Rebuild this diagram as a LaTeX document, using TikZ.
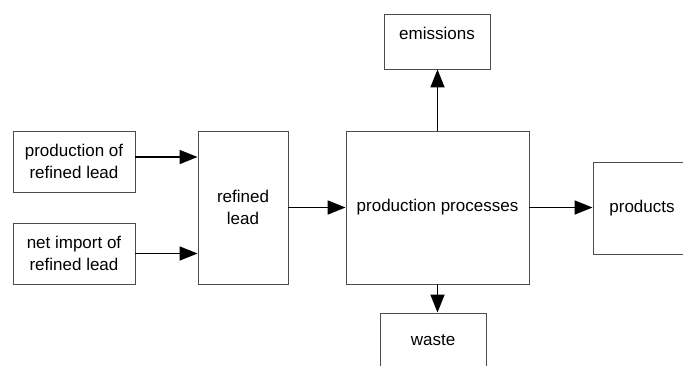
\documentclass[tikz,border=0pt]{standalone}
\usepackage{fontspec}
\setmainfont{Liberation Sans}
\usetikzlibrary{positioning, calc, arrows.meta}

\begin{document}
\begin{tikzpicture}[x=1pt, y=-1pt,
	box/.style={draw=black!70, line width=0.9pt, align=center, inner sep=0pt, font=\fontsize{17}{21.5}\selectfont},
	flow/.style={line width=1.7pt, -{Triangle[length=18pt, width=14pt]}}]
\useasboundingbox (0, 0) rectangle (683, 365);
\clip (0, 0) rectangle (683, 365);
\node[box, minimum width=122, minimum height=61] (prod) at (74, 161.5) {production of\\refined lead};
\node[box, minimum width=122, minimum height=61] (imp) at (74, 253.5) {net import of\\refined lead};
\node[box, minimum width=90, minimum height=153] (ref) at (243, 207.5) {refined\\lead};
\node[box, minimum width=183, minimum height=153] (proc) at (437.5, 207.5) {production processes};
\node[box, minimum width=106, minimum height=55, text depth=17pt] (emis) at (437, 41.5) {emissions};
\node[box, minimum width=106, minimum height=55] (waste) at (433, 340.5) {waste};
\node[box, minimum width=98, minimum height=92] (prods) at (642, 208) {products};
% connectors
\coordinate (p1) at ([yshift=4.5pt]prod.east);
\draw[flow] (p1) -- (p1 -| ref.west);
\draw[flow] (imp.east) -- (imp.east -| ref.west);
\draw[flow] (ref.east) -- (ref.east -| proc.west);
\draw[flow] (proc.east) -- (proc.east -| prods.west);
\draw[flow] (proc.north) -- (proc.north |- emis.south);
\draw[flow] (proc.south) -- (proc.south |- waste.north);
\end{tikzpicture}
\end{document}
